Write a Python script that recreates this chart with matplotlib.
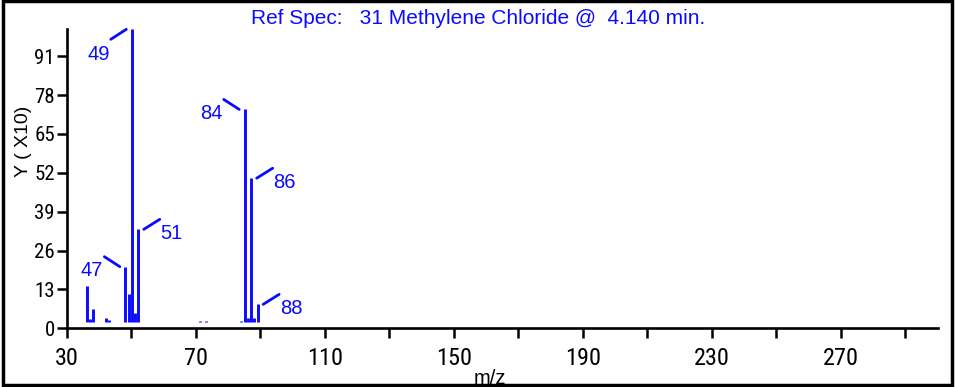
import matplotlib
matplotlib.use("Agg")
import matplotlib.pyplot as plt
from matplotlib.patches import Rectangle
from matplotlib.transforms import offset_copy

# spectrum (bar tops on the axis scale)
mz = [35, 36, 37, 41, 42, 47, 48, 49, 50, 51, 70, 72, 83, 84, 85, 86, 87, 88]
height = [14.0, 3.0, 6.4, 3.3, 2.8, 20.6, 11.5, 100.0, 5.2, 33.1,
          2.4, 2.4, 2.5, 73.2, 3.3, 50.2, 3.3, 8.0]

# labelled peaks and which side their label sits on
label_mz = [47, 49, 51, 84, 86, 88]
label_side = ["left", "left-down", "right", "left", "right", "right"]

xticks = list(range(30, 300, 20))
xticklabels = [str(t) if (t - 30) % 40 == 0 else "" for t in xticks]
yticks = [0, 13, 26, 39, 52, 65, 78, 91]

title = "Ref Spec:   31 Methylene Chloride @  4.140 min."

BASE = 2.2       # bars start a little above zero
MZ_SHIFT = 1.2   # bars are drawn slightly right of the tick scale
BLUE = "#0a0aff"
NARROW = ["Roboto Condensed", "PT Sans Narrow", "DejaVu Sans"]
REGULAR = ["Liberation Sans", "DejaVu Sans"]

plt.rcParams["font.family"] = NARROW

fig = plt.figure(figsize=(9.55, 3.87), dpi=100)
ax = fig.add_axes([0.0698, 0.1517, 0.912, 0.7726])

xs = [m + MZ_SHIFT for m in mz]
ax.vlines(xs, BASE, height, colors=BLUE, lw=2.1)

ax.set_xlim(30, 300)
ax.set_ylim(0, 100)
ax.set_xticks(xticks)
ax.set_xticklabels(xticklabels, fontsize=17.5)
ax.set_yticks(yticks)
ax.set_yticklabels([str(t) for t in yticks], fontsize=15)
ax.tick_params(axis="x", length=7.5, width=1.8, pad=6)
ax.tick_params(axis="y", length=7.5, width=1.8, pad=1)
for s in ["top", "right"]:
    ax.spines[s].set_visible(False)
for s in ["left", "bottom"]:
    ax.spines[s].set_linewidth(1.9)

# peak labels with short slanted leader lines (offsets in pixels)
offsets = {
    "left": ((-5.5, 0), (-21, 10), (-33.5, -9.6)),
    "left-down": ((-5.5, 0), (-21, -10), (-33.5, -31)),
    "right": ((5.5, 0), (21.5, 10), (33.5, -9.4)),
}
for m, side in zip(label_mz, label_side):
    i = mz.index(m)
    x, h = xs[i], height[i]
    near, far, txt = offsets[side]
    ax.annotate("", xy=(x, h),
                xycoords=offset_copy(ax.transData, fig=fig, x=near[0], y=near[1], units="dots"),
                xytext=(x, h),
                textcoords=offset_copy(ax.transData, fig=fig, x=far[0], y=far[1], units="dots"),
                arrowprops=dict(arrowstyle="-", color=BLUE, lw=2, shrinkA=0, shrinkB=0))
    ax.annotate(str(m), xy=(x, h), xytext=txt, textcoords="offset pixels",
                ha="center", va="baseline", color=BLUE, fontsize=14.5, family=REGULAR)

fig.text(478 / 955, 1 - 24 / 387, title, ha="center", va="baseline", color=BLUE,
         fontsize=15, family=REGULAR)
fig.text(23.5 / 955, 1 - 141.5 / 387, "Y ( X10)", rotation=90, ha="center", va="center",
         fontsize=14, family=REGULAR)
fig.text(490 / 955, 1 - 384 / 387, "m/z", ha="center", va="baseline", fontsize=14.5,
         family=REGULAR)

# frame round the whole picture
fig.patches.append(Rectangle((0.003, 0.004), 0.994, 0.993, transform=fig.transFigure,
                             fill=False, edgecolor="black", lw=2.5, zorder=10))

fig.savefig("out.png", dpi=100)
